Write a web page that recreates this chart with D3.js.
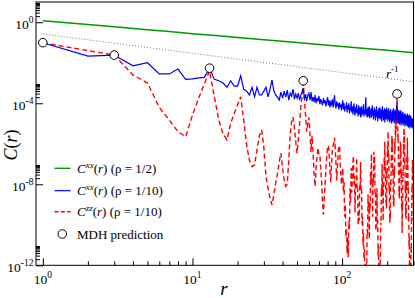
<!DOCTYPE html>
<html><head><meta charset="utf-8">
<script src="https://cdn.jsdelivr.net/npm/d3@7"></script>
<style>
body{margin:0;background:#fff;}
svg{display:block;font-family:"Liberation Serif","Times New Roman",serif;}
</style></head><body>
<svg id="c" width="415" height="298"></svg>
<script>
// ---------- data ----------
const xTickValues = [1, 10, 100];
const xTickExponents = ["0", "1", "2"];
const yTickValues = [1, 1e-4, 1e-8, 1e-12];
const yTickExponents = ["0", "-4", "-8", "-12"];

// C^xx(r), rho = 1/2 (green)
const greenR = [1, 2, 3, 5, 7, 10, 15, 20, 30, 50, 70, 100, 150, 200, 300];
const greenC = [1.19, 0.767, 0.593, 0.428, 0.346, 0.27, 0.213, 0.177, 0.137, 0.099, 0.080, 0.063, 0.049, 0.041, 0.031];

// r^-1 guide line
const refR = [1, 300];
const refC = [0.263, 1.16e-3];

// MDH prediction
const mdhR = [1, 3, 13, 55, 233];
const mdhC = [0.098, 0.024, 0.0054, 0.00129, 0.00029];

// C^xx(r), rho = 1/10 (blue), log10 values for r = 1..300
const blueLog10 = [
-1.01,-1.67,-1.62,-2.15,-2.0,-2.55,-2.55,-2.31,-2.82,-2.80,
-2.75,-2.72,-2.27,-2.82,-2.89,-3.0,-3.21,-2.89,-3.15,-3.15,
-2.65,-3.31,-3.4,-3.59,-3.21,-3.68,-3.21,-3.59,-3.59,-3.4,
-3.21,-3.68,-3.3,-2.85,-3.4,-3.59,-3.7,-3.84,-3.45,-3.75,
-3.4,-3.7,-3.35,-3.85,-3.5,-3.65,-3.3,-3.8,-3.55,-3.75,
-3.5,-3.85,-3.6,-3.45,-3.26,-3.8,-3.55,-3.9,-3.6,-3.5,
-3.85,-3.45,-3.9,-3.7,-3.95,-3.6,-4.0,-3.75,-3.9,-3.65,
-4.05,-3.8,-3.95,-4.1,-3.75,-4.0,-3.85,-4.15,-3.9,-3.7,
-4.1,-3.85,-4.2,-3.95,-4.05,-3.8,-4.2,-3.9,-3.6,-4.1,
-4.25,-3.9,-4.15,-4.0,-4.3,-3.95,-4.2,-4.05,-4.35,-4.1,
-3.85,-4.3,-4.0,-4.4,-4.15,-4.25,-3.95,-4.45,-4.1,-4.3,
-4.0,-4.5,-4.2,-4.35,-3.9,-4.45,-4.15,-4.55,-4.25,-4.0,
-4.4,-4.6,-4.2,-4.45,-4.05,-4.5,-4.3,-4.65,-4.1,-4.4,
-4.55,-4.2,-4.7,-4.35,-4.15,-4.6,-4.3,-4.5,-4.05,-4.65,
-4.35,-4.55,-4.2,-3.7,-4.6,-4.3,-4.7,-4.4,-4.2,-4.65,
-4.45,-4.15,-4.75,-4.35,-4.55,-4.25,-4.7,-4.4,-4.1,-4.6,
-4.35,-4.8,-4.5,-4.2,-4.65,-4.4,-4.85,-4.3,-4.55,-4.15,
-4.7,-4.45,-4.9,-4.35,-4.6,-4.25,-4.75,-4.5,-4.2,-4.8,
-4.4,-4.65,-4.3,-4.9,-4.5,-4.15,-4.7,-4.45,-4.85,-4.35,
-4.6,-4.25,-4.95,-4.5,-4.7,-4.3,-4.8,-4.45,-4.2,-4.75,
-4.55,-4.9,-4.35,-4.65,-4.25,-4.8,-4.5,-4.95,-4.4,-4.6,
-4.3,-4.85,-4.55,-5.0,-4.45,-4.7,-4.35,-4.9,-4.6,-4.25,
-4.8,-4.5,-5.0,-4.4,-4.65,-4.3,-4.85,-4.55,-4.95,-4.4,
-4.6,-4.3,-3.95,-4.5,-4.85,-4.4,-5.0,-4.6,-4.35,-4.9,
-4.55,-5.05,-4.45,-4.75,-4.35,-4.95,-4.6,-5.1,-4.5,-4.8,
-4.4,-5.0,-4.65,-4.9,-4.45,-5.1,-4.7,-4.55,-5.0,-4.6,
-4.85,-4.5,-5.15,-4.7,-4.95,-4.55,-5.05,-4.75,-4.6,-5.1,
-4.65,-4.9,-4.5,-5.15,-4.8,-5.0,-4.6,-5.2,-4.75,-4.95,
-4.55,-5.1,-4.8,-5.25,-4.7,-4.95,-4.6,-5.15,-4.85,-5.05,
-4.7,-5.2,-4.9,-5.0,-4.75,-5.25,-4.85,-5.1,-4.8,-5.3
];

// C^zz(r), rho = 1/10 (red dashed), log10 values for r = 1..300
const redLog10 = [
-1.01,-1.4,-1.62,-2.6,-3.0,-4.2,-4.83,-5.4,-5.65,-4.58,
-3.74,-3.05,-2.4,-3.68,-4.83,-5.5,-5.81,-4.99,-4.5,-4.09,
-3.68,-4.83,-6.06,-6.8,-7.13,-7.05,-6.3,-5.6,-5.32,-6.2,
-7.63,-8.2,-8.7,-9.02,-8.5,-7.9,-7.47,-6.9,-6.46,-7.2,
-7.8,-8.1,-8.0,-6.8,-5.5,-4.9,-4.68,-5.2,-5.9,-6.46,
-5.8,-5.0,-4.2,-3.6,-3.0,-3.8,-4.6,-5.4,-5.0,-4.7,
-5.5,-6.4,-5.6,-6.5,-7.5,-8.1,-7.2,-6.6,-6.2,-6.5,
-6.5,-7.3,-7.9,-8.9,-9.5,-8.6,-8.0,-7.2,-6.6,-6.1,
-6.1,-6.6,-7.4,-7.9,-7.0,-6.3,-6.1,-6.0,-5.7,-6.2,
-7.0,-7.8,-7.2,-6.5,-6.1,-6.1,-6.9,-7.5,-8.0,-7.6,
-7.2,-8.4,-7.9,-9.6,-9.0,-10.6,-10.2,-11.4,-10.6,-11.6,
-9.8,-10.2,-8.2,-8.9,-7.2,-8.4,-7.8,-7.0,-6.6,-8.0,
-7.6,-9.4,-8.0,-8.2,-6.7,-8.3,-8.2,-10.0,-9.4,-9.8,
-8.0,-8.3,-6.9,-8.4,-8.3,-10.0,-9.6,-11.0,-10.4,-11.7,
-11.2,-12.6,-12.0,-13.0,-11.9,-12.2,-10.2,-10.5,-8.5,-9.2,
-8.8,-10.7,-8.9,-9.2,-7.4,-7.8,-6.5,-8.0,-7.9,-9.6,
-7.7,-7.9,-6.4,-7.0,-6.6,-8.5,-8.4,-10.3,-9.9,-10.1,
-8.2,-10.0,-9.8,-11.5,-11.0,-12.6,-12.0,-13.0,-11.8,-11.9,
-9.9,-10.0,-8.2,-8.6,-7.0,-8.4,-8.1,-9.8,-8.0,-8.2,
-6.7,-7.1,-5.9,-7.3,-7.1,-8.9,-8.7,-9.2,-7.4,-7.7,
-6.1,-6.6,-5.4,-6.7,-6.5,-8.3,-8.1,-9.9,-9.5,-9.7,
-7.9,-8.1,-6.5,-6.9,-5.6,-6.2,-5.7,-7.4,-7.2,-9.0,
-8.8,-9.1,-7.3,-7.5,-5.9,-6.4,-5.1,-5.7,-4.6,-5.3,
-4.1,-4.6,-3.7,-4.7,-4.4,-5.8,-5.5,-7.1,-6.9,-8.6,
-8.3,-8.7,-7.0,-7.4,-5.9,-6.5,-6.0,-7.7,-7.4,-9.2,
-8.9,-10.4,-8.8,-9.1,-7.3,-7.6,-6.0,-6.5,-5.2,-6.0,
-5.4,-7.0,-6.7,-8.4,-8.0,-9.6,-9.1,-9.7,-8.0,-8.3,
-6.6,-7.1,-5.7,-7.0,-6.6,-8.3,-8.1,-9.8,-9.5,-11.1,
-10.6,-12.1,-11.5,-12.9,-12.2,-13.4,-12.1,-12.7,-11.1,-11.4,
-9.6,-9.8,-8.1,-8.4,-6.8,-7.5,-7.0,-8.7,-8.5,-10.2
];

const legendNames = ["xx", "xx", "zz", "MDH prediction"];
const legendRho = ["1/2", "1/10", "1/10"];

// ---------- layout ----------
const L = 36, R = 413.5, T = 2, B = 265.3;
const svg = d3.select("#c");
const x = d3.scaleLog().domain([0.9, 300]).range([L, R]);
const y = d3.scaleLog().domain([1e-12, 10]).range([B, T]);

svg.append("defs").append("clipPath").attr("id", "clip")
  .append("rect").attr("x", L).attr("y", T).attr("width", R - L).attr("height", B - T);

const plot = svg.append("g").attr("clip-path", "url(#clip)");
const line = d3.line().x(d => x(d[0])).y(d => y(d[1]));

// green
plot.append("path").datum(greenR.map((r, i) => [r, greenC[i]]))
  .attr("d", line).attr("fill", "none").attr("stroke", "#009a00").attr("stroke-width", 1.5);
// reference r^-1
plot.append("path").datum(refR.map((r, i) => [r, refC[i]]))
  .attr("d", line).attr("fill", "none").attr("stroke", "#777").attr("stroke-width", 1)
  .attr("stroke-dasharray", "1,2");
// red dashed
plot.append("path").datum(redLog10.map((v, i) => [i + 1, Math.pow(10, v)]))
  .attr("d", line).attr("fill", "none").attr("stroke", "#ff0000").attr("stroke-width", 1.4)
  .attr("stroke-dasharray", "5,3");
// blue
plot.append("path").datum(blueLog10.map((v, i) => [i + 1, Math.pow(10, v)]))
  .attr("d", line).attr("fill", "none").attr("stroke", "#0000ff").attr("stroke-width", 1.2);
// MDH circles
svg.append("g").selectAll("circle").data(mdhR.map((r, i) => [r, mdhC[i]])).join("circle")
  .attr("cx", d => x(d[0])).attr("cy", d => y(d[1])).attr("r", 4.3)
  .attr("fill", "#fff").attr("stroke", "#000").attr("stroke-width", 1);

// ---------- axes ----------
const xMinor = [];
for (let m = 0; m <= 2; m++) for (let k = 2; k <= 9; k++) { const v = k * Math.pow(10, m); if (v <= 300) xMinor.push(v); }
const yMinor = [];
yTickValues.forEach(v => { for (let k = 2; k <= 9; k++) if (k * v <= 10) yMinor.push(k * v); });

function styleAxis(g) { g.select(".domain").remove(); g.selectAll(".tick line").attr("stroke", "#000").attr("stroke-width", 1); }
svg.append("g").attr("transform", `translate(0,${B})`)
  .call(d3.axisBottom(x).tickValues(xTickValues).tickSize(-7).tickFormat(() => "")).call(styleAxis);
svg.append("g").attr("transform", `translate(0,${B})`)
  .call(d3.axisBottom(x).tickValues(xMinor).tickSize(-4).tickFormat(() => "")).call(styleAxis);
svg.append("g").attr("transform", `translate(${L},0)`)
  .call(d3.axisLeft(y).tickValues(yTickValues).tickSize(-7).tickFormat(() => "")).call(styleAxis);
svg.append("g").attr("transform", `translate(${L},0)`)
  .call(d3.axisLeft(y).tickValues(yMinor).tickSize(-4).tickFormat(() => "")).call(styleAxis);

// frame
svg.append("rect").attr("x", L).attr("y", T).attr("width", R - L).attr("height", B - T)
  .attr("fill", "none").attr("stroke", "#000").attr("stroke-width", 1);

// tick labels
xTickValues.forEach((v, i) => {
  const t = svg.append("text").attr("x", x(v)).attr("y", 284).attr("text-anchor", "middle").attr("font-size", 13.5);
  t.append("tspan").text("10");
  t.append("tspan").attr("dy", -6).attr("font-size", 9.5).text(xTickExponents[i]);
});
yTickValues.forEach((v, i) => {
  const t = svg.append("text").attr("x", 33.5).attr("y", y(v) + 6.5).attr("text-anchor", "end").attr("font-size", 13.5);
  t.append("tspan").text("10");
  t.append("tspan").attr("dy", -6).attr("font-size", 9.5).text(yTickExponents[i]);
});

// axis titles
svg.append("text").attr("x", 224).attr("y", 295).attr("text-anchor", "middle")
  .attr("font-size", 19).attr("font-style", "italic").text("r");
const yt = svg.append("text").attr("transform", "translate(17,145) rotate(-90)")
  .attr("text-anchor", "middle").attr("font-size", 18);
yt.append("tspan").attr("font-style", "italic").text("C");
yt.append("tspan").text("(");
yt.append("tspan").attr("font-style", "italic").text("r");
yt.append("tspan").text(")");

// r^-1 label
const rl = svg.append("text").attr("x", 398.5).attr("y", 78).attr("text-anchor", "end").attr("font-size", 13);
rl.append("tspan").attr("font-style", "italic").text("r");
rl.append("tspan").attr("dy", -6).attr("font-size", 9).text("-1");

// ---------- legend ----------
const rowsY = [168.3, 190.7, 211.7, 234];
const legColors = ["#009a00", "#0000ff", "#ff0000"];
const legDash = [null, null, "4,2.3"];
for (let i = 0; i < 3; i++) {
  svg.append("line").attr("x1", 54.5).attr("x2", 70.5).attr("y1", rowsY[i]).attr("y2", rowsY[i])
    .attr("stroke", legColors[i]).attr("stroke-width", i === 1 ? 1.2 : 1.4).attr("stroke-dasharray", legDash[i]);
  const t = svg.append("text").attr("x", 77).attr("y", rowsY[i] + 4.5).attr("font-size", 13);
  t.append("tspan").attr("font-style", "italic").text("C");
  t.append("tspan").attr("font-style", "italic").attr("font-size", 9).attr("dy", -5).text(legendNames[i]);
  t.append("tspan").attr("dy", 5).text("(");
  t.append("tspan").attr("font-style", "italic").text("r");
  t.append("tspan").text(") (\u03c1 = " + legendRho[i] + ")");
}
svg.append("circle").attr("cx", 62.3).attr("cy", rowsY[3]).attr("r", 4.3)
  .attr("fill", "#fff").attr("stroke", "#000").attr("stroke-width", 1);
svg.append("text").attr("x", 77).attr("y", rowsY[3] + 4.5).attr("font-size", 13).text(legendNames[3]);
</script>
</body></html>
